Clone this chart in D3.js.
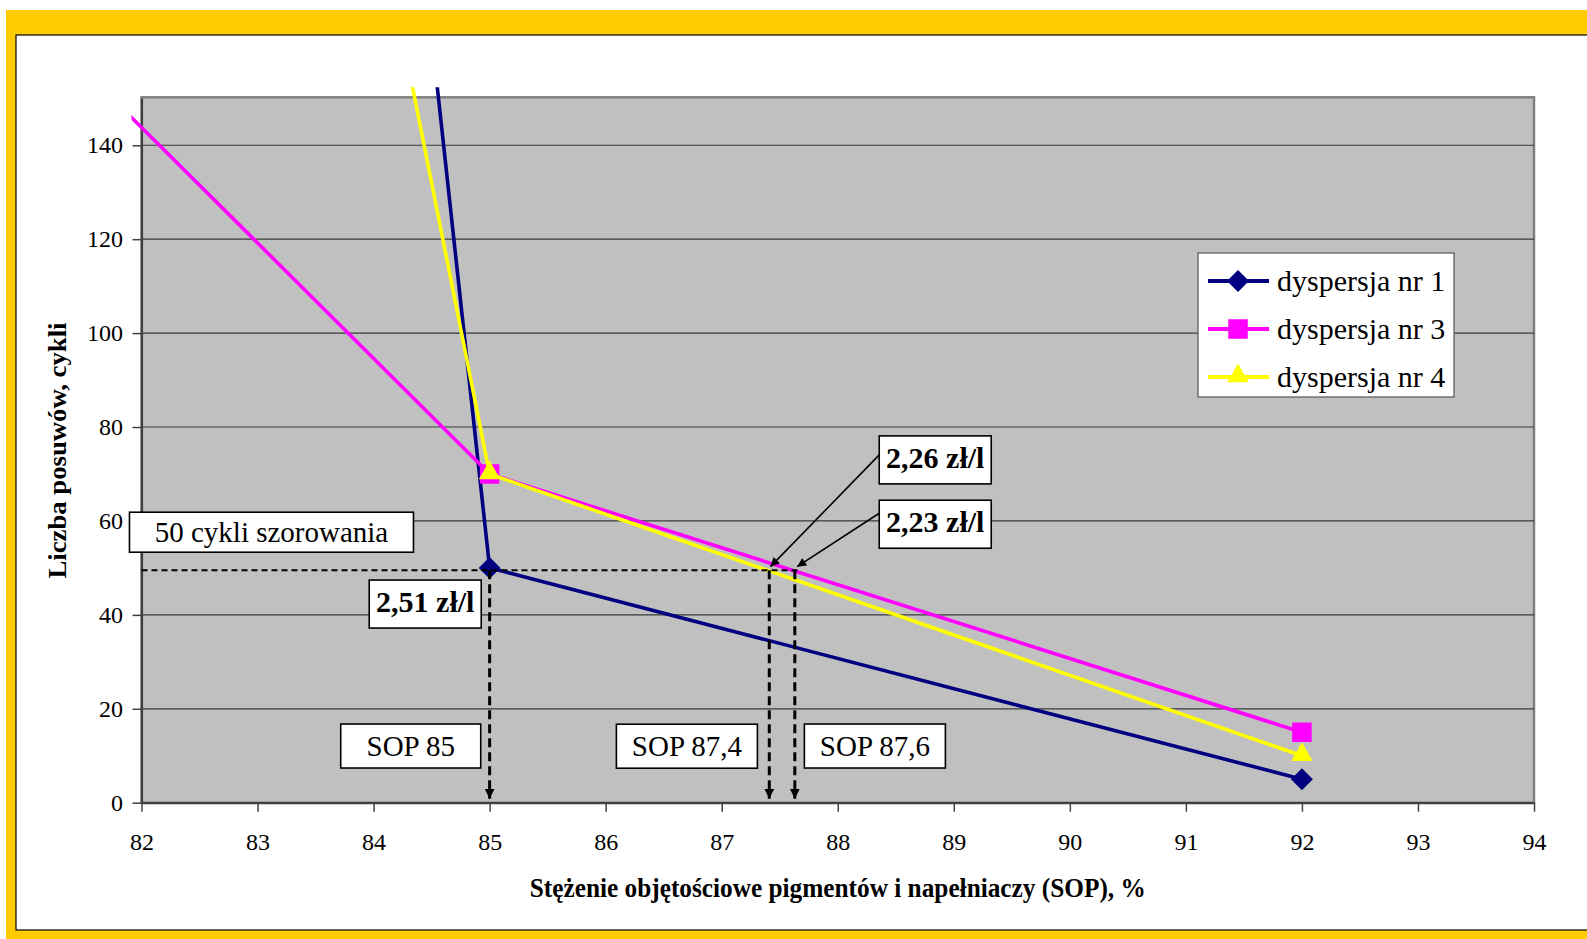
<!DOCTYPE html>
<html lang="pl">
<head>
  <meta charset="utf-8">
  <title>Liczba posuwów a SOP</title>
  <style>
    body { margin: 0; background: #fff; }
    svg { display: block; font-family: "Liberation Serif", "Times New Roman", Times, serif; }
    svg text { font-family: "Liberation Serif", "Times New Roman", Times, serif !important; fill: #000; }
    .axis text { font-size: 24px; }
    .note text { font-size: 29px; }
    .note .bold { font-weight: bold; font-size: 30px; }
  </style>
  <script src="https://d3js.org/d3.v7.min.js"></script>
</head>
<body>
<script>
  // series: SOP (%) and cycles, first point lies outside the visible range
  let sop1 = [84, 85, 92]
  let cycles1 = [277, 50, 5]
  let sop3 = [80, 85, 92]
  let cycles3 = [193, 70, 15]
  let sop4 = [84, 85, 92]
  let cycles4 = [194, 70, 10]
  let seriesNames = ['dyspersja nr 1', 'dyspersja nr 3', 'dyspersja nr 4']

  let xTicks = [82, 83, 84, 85, 86, 87, 88, 89, 90, 91, 92, 93, 94]
  let yTicks = [0, 20, 40, 60, 80, 100, 120, 140]

  // reading at 50 cycles
  let limitCycles = 49.5
  let sopMarks = [85, 87.41, 87.63]
  let noteTexts = ['50 cykli szorowania', '2,51 zł/l', 'SOP 85', 'SOP 87,4', 'SOP 87,6', '2,26 zł/l', '2,23 zł/l']

  let serif = '"Liberation Serif", "Times New Roman", Times, serif'
  let width = 1587
  let height = 939

  let svg = d3.select('body').append('svg')
      .attr('width', width)
      .attr('height', height)
      .attr('font-family', serif)

  // yellow frame
  svg.append('rect').attr('x', 6).attr('y', 10).attr('width', width).attr('height', height)
      .attr('fill', '#FFCC00')
  svg.append('rect').attr('x', 16).attr('y', 35).attr('width', width).attr('height', 895)
      .attr('fill', '#fff').attr('stroke', '#000').attr('stroke-width', 1.2)

  let x = d3.scaleLinear().domain([82, 94]).range([141.5, 1534])
  let y = d3.scaleLinear().domain([0, 150]).range([802.7, 98.3])

  let defs = svg.append('defs')
  defs.append('clipPath').attr('id', 'clip')
    .append('rect')
      .attr('x', x(82) - 10).attr('y', y(150) - 11)
      .attr('width', x(94) - x(82) + 20).attr('height', y(0) - y(150) + 21)

  defs.append('marker').attr('id', 'headDash')
      .attr('viewBox', '0 0 10 10').attr('refX', 10).attr('refY', 5)
      .attr('markerWidth', 10).attr('markerHeight', 10).attr('markerUnits', 'userSpaceOnUse')
      .attr('orient', 'auto')
    .append('path').attr('d', 'M0,0 L10,5 L0,10 Z').attr('fill', '#000')

  defs.append('marker').attr('id', 'headSolid')
      .attr('viewBox', '0 0 10 10').attr('refX', 10).attr('refY', 5)
      .attr('markerWidth', 14).attr('markerHeight', 9).attr('markerUnits', 'userSpaceOnUse')
      .attr('orient', 'auto')
    .append('path').attr('d', 'M0,0 L10,5 L0,10 Z').attr('fill', '#000')

  // plot area
  svg.append('rect')
      .attr('x', x(82)).attr('y', y(150) - 1)
      .attr('width', x(94) - x(82)).attr('height', y(0) - y(150) + 1)
      .attr('fill', '#C0C0C0').attr('stroke', '#808080').attr('stroke-width', 2.5)

  svg.append('g')
      .selectAll('line')
      .data(yTicks.filter(d => d > 0))
      .join('line')
      .attr('x1', x(82)).attr('x2', x(94))
      .attr('y1', d => y(d)).attr('y2', d => y(d))
      .attr('stroke', '#3a3a3a').attr('stroke-width', 1.2)

  svg.append('g')
      .attr('class', 'axis')
      .attr('transform', `translate(0, ${y(0)})`)
      .call(d3.axisBottom(x).tickValues(xTicks).tickSize(9).tickSizeOuter(0).tickPadding(21))
  svg.append('g')
      .attr('class', 'axis')
      .attr('transform', `translate(${x(82)}, 0)`)
      .call(d3.axisLeft(y).tickValues(yTicks).tickSize(9).tickSizeOuter(0).tickPadding(9.5))

  svg.selectAll('.axis').attr('font-family', serif).attr('font-size', 24)
  svg.selectAll('.axis .domain').attr('stroke', '#404040').attr('stroke-width', 2.2)
  svg.selectAll('.axis .tick line').attr('stroke', '#404040').attr('stroke-width', 1.5)
  svg.selectAll('.axis text').style('font-family', serif).style('font-size', '24px')

  // axis titles
  svg.append('text')
      .attr('x', (x(82) + x(94)) / 2).attr('y', 897)
      .attr('text-anchor', 'middle')
      .attr('font-weight', 'bold').attr('font-size', 27)
      .attr('textLength', 616).attr('lengthAdjust', 'spacingAndGlyphs')
      .text('Stężenie objętościowe pigmentów i napełniaczy (SOP), %')

  svg.append('text')
      .attr('transform', `translate(66, ${(y(0) + y(150)) / 2}) rotate(-90)`)
      .attr('text-anchor', 'middle')
      .attr('font-weight', 'bold').attr('font-size', 25)
      .attr('textLength', 256).attr('lengthAdjust', 'spacingAndGlyphs')
      .text('Liczba posuwów, cykli')

  // series
  let series = [
    { name: seriesNames[0], sop: sop1, cycles: cycles1, color: '#000080', shape: 'diamond' },
    { name: seriesNames[1], sop: sop3, cycles: cycles3, color: '#FF00FF', shape: 'square' },
    { name: seriesNames[2], sop: sop4, cycles: cycles4, color: '#FFFF00', shape: 'triangle' }
  ]

  let markerPath = (shape) => {
    if (shape === 'diamond') return d3.symbol().type(d3.symbolSquare).size(240)()
    if (shape === 'square') return d3.symbol().type(d3.symbolSquare).size(380)()
    return d3.symbol().type(d3.symbolTriangle).size(200)()
  }
  let markerTransform = (shape, px, py) => {
    if (shape === 'diamond') return `translate(${px}, ${py}) rotate(45)`
    if (shape === 'triangle') return `translate(${px}, ${py - 1})`
    return `translate(${px}, ${py})`
  }

  let line = d3.line().x(d => x(d[0])).y(d => y(d[1]))

  let seriesG = svg.append('g').attr('clip-path', 'url(#clip)')
  series.forEach(s => {
    let pts = s.sop.map((v, i) => [v, s.cycles[i]])
    seriesG.append('path')
        .attr('d', line(pts))
        .attr('fill', 'none').attr('stroke', s.color).attr('stroke-width', 3.6)
    seriesG.selectAll(null)
        .data(pts)
        .join('path')
        .attr('d', markerPath(s.shape))
        .attr('transform', d => markerTransform(s.shape, x(d[0]), y(d[1])))
        .attr('fill', s.color)
  })

  // legend
  let legend = svg.append('g').attr('transform', 'translate(1198, 253)')
  legend.append('rect')
      .attr('width', 256).attr('height', 144)
      .attr('fill', '#fff').attr('stroke', '#555').attr('stroke-width', 1.2)
  series.forEach((s, i) => {
    let ly = 28 + i * 48
    legend.append('line')
        .attr('x1', 10).attr('x2', 71).attr('y1', ly).attr('y2', ly)
        .attr('stroke', s.color).attr('stroke-width', 4)
    legend.append('path')
        .attr('d', markerPath(s.shape))
        .attr('transform', markerTransform(s.shape, 40, ly))
        .attr('fill', s.color)
    legend.append('text')
        .attr('x', 79).attr('y', ly + 9.5)
        .attr('font-size', 30)
        .text(s.name)
  })

  // reading lines at 50 cycles
  let guides = svg.append('g')
  guides.append('line')
      .attr('x1', x(82)).attr('x2', x(sopMarks[2]) + 3)
      .attr('y1', y(limitCycles)).attr('y2', y(limitCycles))
      .attr('stroke', '#000').attr('stroke-width', 2).attr('stroke-dasharray', '6,4')
  guides.selectAll(null)
      .data(sopMarks)
      .join('line')
      .attr('x1', d => x(d)).attr('x2', d => x(d))
      .attr('y1', y(limitCycles)).attr('y2', y(0) - 4)
      .attr('stroke', '#000').attr('stroke-width', 3).attr('stroke-dasharray', '9,5')
      .attr('marker-end', 'url(#headDash)')

  // text boxes: centre in SOP / cycles, size in px
  let notes = [
    { text: noteTexts[0], sx: 83.12, sy: 57.6, w: 284, h: 40, bold: false },
    { text: noteTexts[1], sx: 84.445, sy: 42.3, w: 112, h: 48, bold: true },
    { text: noteTexts[2], sx: 84.32, sy: 12.07, w: 140, h: 44, bold: false },
    { text: noteTexts[3], sx: 86.70, sy: 12.03, w: 141, h: 44, bold: false },
    { text: noteTexts[4], sx: 88.32, sy: 12.07, w: 141, h: 44, bold: false },
    { text: noteTexts[5], sx: 88.84, sy: 73.0, w: 112, h: 48, bold: true },
    { text: noteTexts[6], sx: 88.84, sy: 59.3, w: 112, h: 48, bold: true }
  ]

  // pointers from the price boxes to the crossing points
  let pointers = [
    { from: notes[5], dy: -5, toX: 87.42, toY: 50.26 },
    { from: notes[6], dy: -11, toX: 87.65, toY: 50.26 }
  ]
  guides.selectAll(null)
      .data(pointers)
      .join('line')
      .attr('x1', d => x(d.from.sx) - d.from.w / 2)
      .attr('y1', d => y(d.from.sy) + d.dy)
      .attr('x2', d => x(d.toX)).attr('y2', d => y(d.toY))
      .attr('stroke', '#000').attr('stroke-width', 1.6)
      .attr('marker-end', 'url(#headSolid)')

  let noteG = svg.append('g').attr('class', 'note')
      .selectAll('g')
      .data(notes)
      .join('g')
      .attr('transform', d => `translate(${x(d.sx)}, ${y(d.sy)})`)
  noteG.append('rect')
      .attr('x', d => -d.w / 2).attr('y', d => -d.h / 2)
      .attr('width', d => d.w).attr('height', d => d.h)
      .attr('fill', '#fff').attr('stroke', '#000').attr('stroke-width', 1.6)
  noteG.append('text')
      .attr('class', d => d.bold ? 'bold' : null)
      .attr('text-anchor', 'middle')
      .attr('y', d => d.bold ? 8 : 10)
      .text(d => d.text)
</script>
</body>
</html>
